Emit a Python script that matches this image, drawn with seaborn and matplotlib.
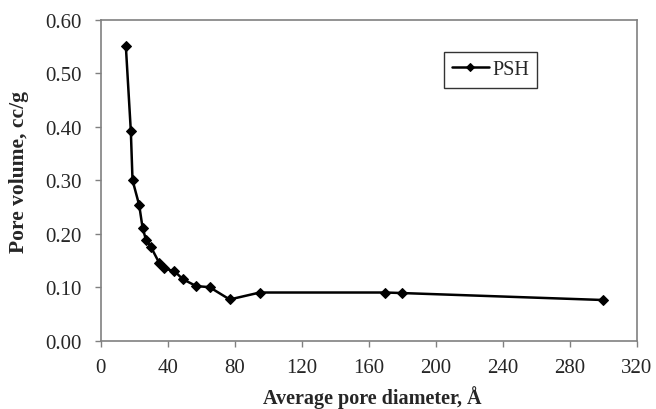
import matplotlib
matplotlib.use("Agg")
import matplotlib.pyplot as plt
import seaborn as sns
import pandas as pd

diameter = [15, 18, 19, 23, 25, 27, 30, 35, 37.5, 44, 49, 57, 65, 77, 95, 170, 180, 300]
volume = [0.551, 0.391, 0.300, 0.253, 0.211, 0.189, 0.175, 0.145, 0.135, 0.130, 0.115, 0.102, 0.100, 0.077, 0.090, 0.090, 0.089, 0.076]
series = "PSH"

df = pd.DataFrame({"d": diameter, "v": volume, "s": series})

sns.set_style("white")
plt.rcParams["font.family"] = ["Liberation Serif", "DejaVu Serif"]

fig = plt.figure(figsize=(6.56, 4.10), dpi=100)
ax = fig.add_axes([0.1535, 0.1666, 0.817, 0.7834])

sns.lineplot(data=df, x="d", y="v", hue="s", palette=["black"], marker="D",
             markersize=5.5, linewidth=1.8, sort=False, ax=ax,
             markeredgecolor="black")

ax.set_xlim(0, 320)
ax.set_ylim(0, 0.60)
ax.set_xticks(range(0, 321, 40))
ax.set_yticks([i / 10 for i in range(7)])
ax.set_yticklabels([f"{i/10:.2f}" for i in range(7)])
ax.tick_params(axis="both", direction="out", length=4.5, width=1, color="#808080",
               labelsize=15, left=True, bottom=True)
ax.tick_params(axis="x", pad=8)
ax.tick_params(axis="y", pad=9.5)
for sp in ax.spines.values():
    sp.set_color("#808080")
    sp.set_linewidth(1.2)

ax.set_xlabel("Average pore diameter, Å", fontsize=14.5, fontweight="bold")
ax.set_ylabel("Pore volume, cc/g", fontsize=15.5, fontweight="bold")
ax.xaxis.set_label_coords(0.506, -0.138)
ax.yaxis.set_label_coords(-0.134, 0.527)

leg = ax.legend(loc="center", bbox_to_anchor=(0.727, 0.843), frameon=True,
                fancybox=False, edgecolor="black", fontsize=14.5, handlelength=1.85,
                handletextpad=0.15, borderpad=0.4, markerscale=0.75)
leg.get_frame().set_linewidth(1.0)

fig.savefig("out.png", dpi=100)
